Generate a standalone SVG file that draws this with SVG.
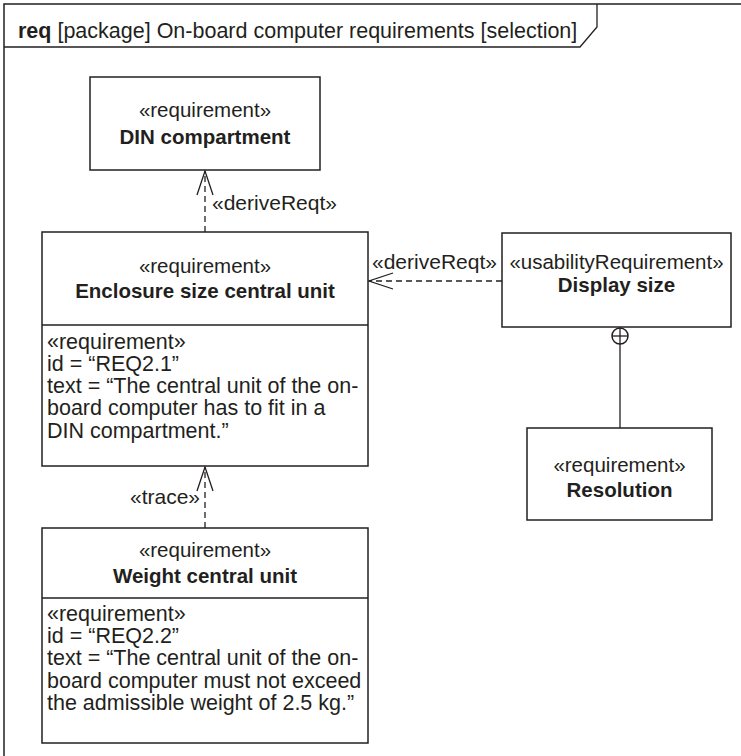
<svg xmlns="http://www.w3.org/2000/svg" width="741" height="756" viewBox="0 0 741 756">
<style>
  text { font-family: "Liberation Sans", Arial, sans-serif; fill: #231f20; }
  .box { fill: #ffffff; stroke: #231f20; stroke-width: 1.5; }
  .st { font-size: 20.5px; text-anchor: middle; }
  .nm { font-size: 20.5px; font-weight: bold; text-anchor: middle; }
  .cp { font-size: 21.5px; }
  .lbl { font-size: 21px; }
  .dash { fill: none; stroke: #231f20; stroke-width: 1.3; stroke-dasharray: 6 4; }
  .solid { fill: none; stroke: #231f20; stroke-width: 1.3; }
  .head { fill: none; stroke: #231f20; stroke-width: 1.3; }
</style>
<rect width="741" height="756" fill="#ffffff"/>
<g id="frame">
  <path d="M4,756 L4,4 L741,4" fill="none" stroke="#231f20" stroke-width="1.5"/>
  <path d="M4,47 L580,47 L597,27 L597,4" fill="none" stroke="#231f20" stroke-width="1.3"/>
  <text x="18" y="38" style="font-size:21.5px"><tspan font-weight="bold">req</tspan> [package] On-board computer requirements [selection]</text>
</g>
<g id="connectors">
  <line class="dash" x1="205" y1="232" x2="205" y2="171"/>
  <path class="head" d="M197,195 L205,171 L213,195"/>
  <text class="lbl" x="212" y="210">«deriveReqt»</text>
  <line class="dash" x1="502" y1="281" x2="369" y2="281"/>
  <path class="head" d="M393,273 L369,281 L393,289"/>
  <text class="lbl" x="372" y="269">«deriveReqt»</text>
  <line class="dash" x1="205" y1="528" x2="205" y2="467"/>
  <path class="head" d="M197,491 L205,467 L213,491"/>
  <text class="lbl" x="200" y="504" text-anchor="end">«trace»</text>
  <line class="solid" x1="620" y1="344" x2="620" y2="428"/>
  <circle cx="620" cy="336" r="8" fill="#ffffff" stroke="#231f20" stroke-width="1.5"/>
  <line class="solid" x1="612" y1="336" x2="628" y2="336"/>
  <line class="solid" x1="620" y1="328" x2="620" y2="344"/>
</g>
<g id="din-compartment">
  <rect class="box" x="90" y="77" width="230" height="93"/>
  <text class="st" x="205" y="117">«requirement»</text>
  <text class="nm" x="205" y="144">DIN compartment</text>
</g>
<g id="enclosure-size">
  <rect class="box" x="42" y="232" width="326" height="234"/>
  <line x1="42" y1="325" x2="368" y2="325" stroke="#231f20" stroke-width="1.5"/>
  <text class="st" x="205" y="273">«requirement»</text>
  <text class="nm" x="205" y="298">Enclosure size central unit</text>
  <text class="cp" x="47" y="349">«requirement»</text>
  <text class="cp" x="47" y="371">id = “REQ2.1”</text>
  <text class="cp" x="47" y="393">text = “The central unit of the on-</text>
  <text class="cp" x="47" y="415">board computer has to fit in a</text>
  <text class="cp" x="47" y="438">DIN compartment.”</text>
</g>
<g id="display-size">
  <rect class="box" x="502" y="233" width="229" height="94"/>
  <text class="st" x="616.5" y="269">«usabilityRequirement»</text>
  <text class="nm" x="616.5" y="292">Display size</text>
</g>
<g id="resolution">
  <rect class="box" x="527" y="428" width="185" height="92"/>
  <text class="st" x="619.5" y="472">«requirement»</text>
  <text class="nm" x="619.5" y="497">Resolution</text>
</g>
<g id="weight-central-unit">
  <rect class="box" x="42" y="528" width="326" height="215"/>
  <line x1="42" y1="598" x2="368" y2="598" stroke="#231f20" stroke-width="1.5"/>
  <text class="st" x="205" y="557">«requirement»</text>
  <text class="nm" x="205" y="583">Weight central unit</text>
  <text class="cp" x="47" y="621">«requirement»</text>
  <text class="cp" x="47" y="643">id = “REQ2.2”</text>
  <text class="cp" x="47" y="665">text = “The central unit of the on-</text>
  <text class="cp" x="47" y="688">board computer must not exceed</text>
  <text class="cp" x="47" y="710">the admissible weight of 2.5 kg.”</text>
</g>
</svg>
